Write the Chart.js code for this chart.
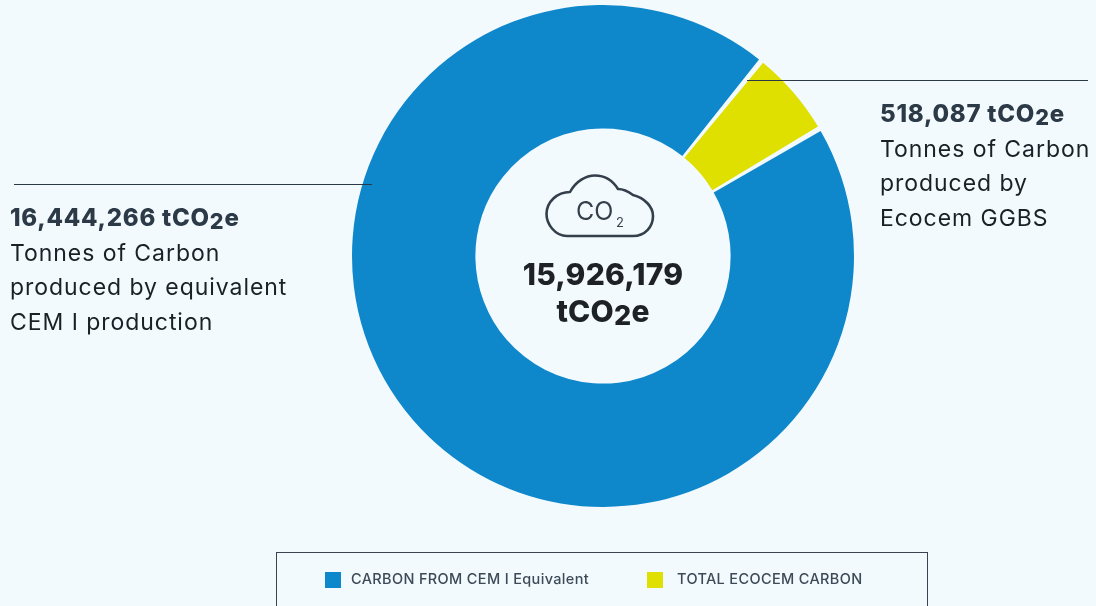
<!DOCTYPE html>
<html>
<head>
<meta charset="utf-8">
<script src="https://cdn.jsdelivr.net/npm/chart.js@4"></script>
<style>
  html, body { margin: 0; padding: 0; background: #f3fafe; }
  #wrap { position: relative; width: 1096px; height: 606px; overflow: hidden; font-family: Inter, sans-serif; }
  #donut { position: absolute; left: 0; top: 0; }
  .rule { position: absolute; height: 1px; background: #2c3a47; }
  .note { position: absolute; font-size: 23px; line-height: 34.7px; color: #1b2026; letter-spacing: 0.95px; white-space: nowrap; }
  .note b { display: block; font-size: 24px; font-weight: 800; color: #2c3a47; letter-spacing: 0.75px; }
  .low { font-size: 0.9em; position: relative; top: 0.12em; }
  #centre { position: absolute; left: 475px; width: 256px; top: 256px; text-align: center; font-size: 30px; line-height: 37px; font-weight: 800; color: #1e2227; letter-spacing: 0.2px; }
  #cloud { position: absolute; left: 545px; top: 174px; }
  #legend { position: absolute; left: 276px; top: 552px; width: 650px; height: 70px; border: 1px solid #3a4450; }
  .key { position: absolute; top: 18px; font-size: 14.5px; line-height: 16px; font-weight: 500; color: #3d4a57; letter-spacing: 0.35px; white-space: nowrap; }
  .swatch { position: absolute; top: 19px; width: 16px; height: 16px; }
</style>
</head>
<body>
<div id="wrap">
  <canvas id="donut" width="1096" height="606"></canvas>
  <div class="rule" style="left:14px;top:184px;width:358px"></div>
  <div class="rule" style="left:747px;top:80px;width:341px"></div>
  <div class="note" style="left:10px;top:201px"><b>16,444,266 tCO<span class="low">2</span>e</b>Tonnes of Carbon<br>produced by equivalent<br>CEM I production</div>
  <div class="note" style="left:880px;top:97px"><b>518,087 tCO<span class="low">2</span>e</b>Tonnes of Carbon<br>produced by<br>Ecocem GGBS</div>
  <svg id="cloud" width="112" height="66" viewBox="0 0 112 66">
    <path d="M22 62 C10 62 1.5 50 1.5 40 C1.5 28 12 18 25 18 C31 7 41 1.5 50 1.5 C60 1.5 68 7 73 15 C79 15 84 18 88 21 C100 24 108 33 108 42 C108 53 100 62 88 62 Z" fill="none" stroke="#333f4a" stroke-width="2.6" stroke-linejoin="round"/>
    <text x="31" y="46" font-family="Inter, sans-serif" font-size="25" fill="#333f4a">CO</text>
    <text x="71" y="53" font-family="Inter, sans-serif" font-size="13" fill="#333f4a">2</text>
  </svg>
  <div id="centre">15,926,179<br>tCO<span class="low">2</span>e</div>
  <div id="legend"></div>
</div>
<script>
const categories = ['CARBON FROM CEM I Equivalent', 'TOTAL ECOCEM CARBON'];
// share of the ring in percent, as drawn in the picture
const ringShare = [94.6, 5.4];
const sliceColors = ['#0f87cb', '#dfdf00'];
const legendSwatchX = [48, 370];
const legendTextX = [74, 400];

new Chart(document.getElementById('donut').getContext('2d'), {
  type: 'doughnut',
  data: {
    labels: categories,
    datasets: [{
      data: ringShare,
      backgroundColor: sliceColors,
      borderWidth: 0,
      spacing: 2.5,
      hoverOffset: 0
    }]
  },
  options: {
    responsive: false,
    animation: false,
    rotation: 59,
    cutout: '50.6%',
    layout: { padding: { left: 352, right: 242, top: 5, bottom: 99 } },
    plugins: {
      legend: { display: false },
      tooltip: { enabled: false }
    }
  }
});

// Legend sits in its own box under the ring
const legendBox = document.getElementById('legend');
categories.forEach((name, i) => {
  const swatch = document.createElement('div');
  swatch.className = 'swatch';
  swatch.style.left = legendSwatchX[i] + 'px';
  swatch.style.background = sliceColors[i];
  legendBox.appendChild(swatch);
  const key = document.createElement('div');
  key.className = 'key';
  key.style.left = legendTextX[i] + 'px';
  key.textContent = name;
  legendBox.appendChild(key);
});
</script>
</body>
</html>
